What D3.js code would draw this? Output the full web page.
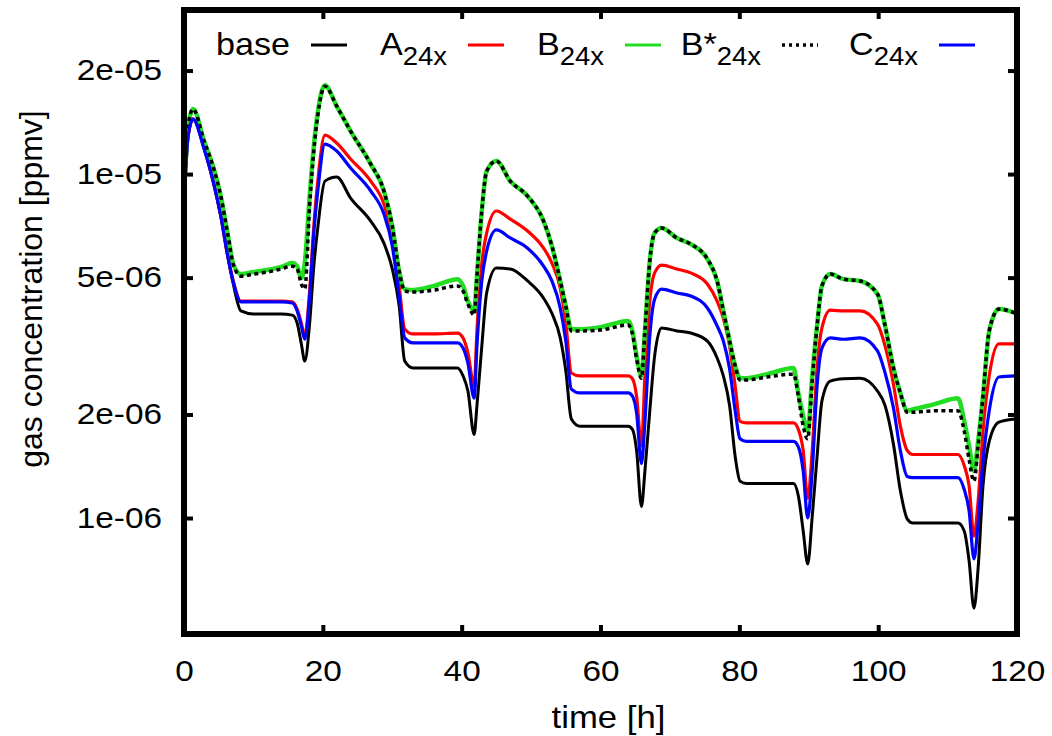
<!DOCTYPE html>
<html>
<head>
<meta charset="utf-8">
<script src="https://cdn.jsdelivr.net/npm/d3@7"></script>
<style>
  body { margin: 0; background: #fff; }
  svg text { font-family: "Liberation Sans", Arial, Helvetica, sans-serif; fill: #000; }
</style>
</head>
<body>
<svg id="chart"></svg>
<script>
// time in hours, shared by every series
var hours = [0, 0.6, 1.3, 2.9, 4.3, 5.3, 6.3, 7.1, 8.2, 10,
  12, 14, 15.6, 16.3, 16.9, 17.4, 18.1, 18.7, 19.3, 20.3,
  22, 24, 26.9, 28.8, 30, 31, 31.8, 33, 36, 39.4,
  40.2, 40.9, 41.8, 42.2, 42.9, 43.6, 45, 47, 49.5, 51.8,
  53, 54.2, 55, 55.8, 57, 60, 64, 64.6, 65.2, 65.9,
  66.4, 67.1, 67.8, 68.8, 71, 73, 75.4, 76.8, 77.7, 78.6,
  79.4, 80.1, 81, 84, 87.8, 88.5, 89.2, 89.85, 90.5, 91.2,
  91.9, 93.1, 95, 97.4, 99.9, 101, 102.2, 103.2, 104.2, 105,
  108, 111.5, 112.4, 113.1, 113.8, 114.4, 115.1, 116, 117.4, 119.8];

// gas concentration, in units of 1e-6 ppmv
var base = [8.35, 12.9, 14.45, 11.9, 9.35, 7.55, 5.78, 4.79, 4.00, 3.92,
  3.92, 3.92, 3.89, 3.69, 3.21, 2.86, 3.69, 5.40, 7.06, 9.54,
  9.80, 8.52, 7.30, 6.30, 5.30, 4.13, 2.86, 2.73, 2.73, 2.73,
  2.59, 2.34, 1.75, 2.12, 3.16, 4.51, 5.33, 5.30, 4.89, 4.36,
  3.94, 3.34, 2.68, 1.94, 1.85, 1.85, 1.85, 1.81, 1.57, 1.08,
  1.37, 2.05, 2.96, 3.57, 3.50, 3.45, 3.27, 2.92, 2.59, 2.12,
  1.51, 1.28, 1.26, 1.26, 1.26, 1.16, 0.917, 0.735, 1.01, 1.51,
  2.19, 2.50, 2.54, 2.55, 2.34, 2.12, 1.64, 1.20, 0.993, 0.967,
  0.967, 0.967, 0.917, 0.750, 0.547, 0.716, 1.24, 1.67, 1.90, 1.94];

var a24x = [8.35, 12.9, 14.45, 11.9, 9.35, 7.55, 5.78, 4.89, 4.27, 4.27,
  4.27, 4.27, 4.25, 4.05, 3.69, 3.38, 4.57, 7.06, 9.67, 12.98,
  12.31, 11.06, 9.54, 8.18, 6.60, 4.73, 3.54, 3.43, 3.43, 3.45,
  3.34, 3.02, 2.42, 3.50, 5.51, 6.74, 7.81, 7.40, 6.83, 6.09,
  5.51, 4.66, 3.69, 2.64, 2.59, 2.59, 2.59, 2.54, 2.26, 1.62,
  2.59, 4.27, 5.16, 5.44, 5.30, 5.16, 4.79, 4.27, 3.81, 3.16,
  2.42, 1.91, 1.89, 1.89, 1.89, 1.81, 1.57, 1.14, 1.57, 2.73,
  3.57, 4.02, 4.00, 4.00, 3.66, 3.16, 2.45, 1.85, 1.57, 1.53,
  1.53, 1.53, 1.42, 1.24, 0.886, 1.12, 1.79, 2.59, 3.21, 3.21];

var b24x = [8.63, 13.79, 15.45, 12.47, 10.34, 8.63, 6.69, 5.47, 5.12, 5.19,
  5.26, 5.37, 5.51, 5.40, 4.99, 5.51, 8.63, 12.06, 15.24, 18.14,
  15.76, 13.34, 10.69, 8.93, 7.06, 5.22, 4.63, 4.60, 4.73, 4.95,
  4.73, 4.27, 4.00, 5.05, 7.81, 10.20, 10.91, 9.54, 8.63, 7.30,
  6.18, 4.89, 4.13, 3.54, 3.54, 3.59, 3.74, 3.50, 2.96, 2.59,
  3.50, 5.59, 6.74, 6.97, 6.52, 6.26, 5.66, 4.89, 4.00, 3.27,
  2.77, 2.55, 2.55, 2.62, 2.73, 2.31, 1.98, 1.79, 2.59, 3.62,
  4.73, 5.12, 4.95, 4.89, 4.48, 3.62, 2.73, 2.31, 2.05, 2.07,
  2.14, 2.23, 1.91, 1.62, 1.37, 1.67, 2.26, 3.50, 4.05, 3.94];

var bStar24x = [8.63, 13.79, 15.45, 12.47, 10.34, 8.63, 6.69, 5.47, 5.05, 5.12,
  5.19, 5.30, 5.40, 5.30, 4.79, 4.63, 8.07, 11.67, 14.94, 18.02,
  15.76, 13.34, 10.69, 8.93, 7.06, 5.22, 4.57, 4.54, 4.60, 4.73,
  4.57, 4.19, 3.89, 5.05, 7.81, 10.20, 10.91, 9.54, 8.63, 7.30,
  6.18, 4.89, 4.13, 3.50, 3.50, 3.52, 3.64, 3.43, 2.90, 2.55,
  3.50, 5.59, 6.74, 6.97, 6.52, 6.26, 5.66, 4.89, 4.00, 3.27,
  2.77, 2.52, 2.52, 2.57, 2.62, 2.26, 1.85, 1.70, 2.50, 3.62,
  4.73, 5.12, 4.95, 4.89, 4.48, 3.62, 2.73, 2.31, 2.03, 2.03,
  2.05, 2.05, 1.79, 1.48, 1.28, 1.62, 2.26, 3.50, 4.05, 3.94];

var c24x = [8.35, 12.9, 14.45, 11.82, 9.35, 7.55, 5.78, 4.85, 4.25, 4.25,
  4.25, 4.25, 4.22, 4.00, 3.62, 3.31, 4.42, 6.74, 9.04, 12.23,
  11.67, 10.41, 8.93, 7.65, 6.18, 4.42, 3.34, 3.23, 3.23, 3.23,
  3.12, 2.82, 2.23, 3.16, 4.89, 5.97, 6.88, 6.52, 6.09, 5.40,
  4.89, 4.08, 3.27, 2.37, 2.31, 2.31, 2.31, 2.26, 2.02, 1.44,
  1.91, 3.38, 4.33, 4.63, 4.51, 4.42, 4.08, 3.62, 3.27, 2.71,
  2.05, 1.70, 1.67, 1.67, 1.67, 1.61, 1.37, 1.00, 1.37, 2.42,
  3.12, 3.34, 3.31, 3.34, 3.06, 2.64, 2.09, 1.57, 1.32, 1.31,
  1.31, 1.31, 1.21, 1.05, 0.760, 0.967, 1.46, 2.05, 2.57, 2.59];

var xTicks = [0, 20, 40, 60, 80, 100, 120];
var yTicks = [1e-6, 2e-6, 5e-6, 1e-5, 2e-5];
var yTickLabels = ["1e-06", "2e-06", "5e-06", "1e-05", "2e-05"];

var dimensions = {
    width: 1052,
    height: 736,
    margin: { top: 10, bottom: 102, left: 184, right: 35 }
}

// draw order as in the original: base, A, B, B*, C
var series = [
    { name: "base", sub: "", values: base, color: "#000000", width: 3 },
    { name: "A", sub: "24x", values: a24x, color: "#ff0000", width: 3.2 },
    { name: "B", sub: "24x", values: b24x, color: "#22dd22", width: 4.5 },
    { name: "B*", sub: "24x", values: bStar24x, color: "#000000", width: 3.5, dash: "4,3.5" },
    { name: "C", sub: "24x", values: c24x, color: "#0000ff", width: 3.2 }
];

var stretch = 1.15;

var svg = d3.select("#chart")
    .attr("width", dimensions.width)
    .attr("height", dimensions.height);

var plotLeft = dimensions.margin.left,
    plotRight = dimensions.width - dimensions.margin.right,
    plotTop = dimensions.margin.top,
    plotBottom = dimensions.height - dimensions.margin.bottom;

var xScale = d3.scaleLinear().domain([0, 120]).range([plotLeft, plotRight]);
var yScale = d3.scaleLog().domain([4.6e-7, 3e-5]).range([plotBottom, plotTop]);

svg.append("clipPath").attr("id", "plotclip")
    .append("rect")
    .attr("x", plotLeft).attr("y", plotTop)
    .attr("width", plotRight - plotLeft).attr("height", plotBottom - plotTop);

var line = d3.line()
    .x(d => xScale(d[0]))
    .y(d => yScale(d[1] * 1e-6))
    .curve(d3.curveMonotoneX);

var curves = svg.append("g").attr("clip-path", "url(#plotclip)");
series.forEach(function(s) {
    curves.append("path")
        .datum(hours.map((h, i) => [h, s.values[i]]))
        .attr("d", line)
        .attr("fill", "none")
        .attr("stroke", s.color)
        .attr("stroke-width", s.width)
        .attr("stroke-linejoin", "round")
        .attr("stroke-dasharray", s.dash || null);
});

// axes, ticks pointing inwards on all four sides
function styleAxis(g) {
    g.attr("font-size", 29).attr("font-family", '"Liberation Sans", Arial, sans-serif');
    g.select(".domain").remove();
    g.selectAll(".tick line").attr("stroke", "#000").attr("stroke-width", 4);
    g.selectAll(".tick text").attr("fill", "#000");
}

svg.append("g")
    .attr("transform", `translate(${plotLeft},0)`)
    .call(d3.axisLeft(yScale).tickValues(yTicks)
        .tickFormat((d, i) => yTickLabels[i]).tickSize(-9).tickPadding(22))
    .call(styleAxis)
    .selectAll(".tick text")
    .attr("x", function() { return +d3.select(this).attr("x") / stretch; })
    .attr("transform", `scale(${stretch},1)`);

svg.append("g")
    .attr("transform", `translate(${plotRight},0)`)
    .call(d3.axisRight(yScale).tickValues(yTicks).tickFormat("").tickSize(-9))
    .call(styleAxis);

svg.append("g")
    .attr("transform", `translate(0,${plotBottom})`)
    .call(d3.axisBottom(xScale).tickValues(xTicks).tickSize(-9).tickPadding(26))
    .call(styleAxis)
    .selectAll(".tick text")
    .attr("transform", `scale(${stretch},1)`);

svg.append("g")
    .attr("transform", `translate(0,${plotTop})`)
    .call(d3.axisTop(xScale).tickValues(xTicks).tickFormat("").tickSize(-9))
    .call(styleAxis);

svg.append("rect")
    .attr("x", plotLeft).attr("y", plotTop)
    .attr("width", plotRight - plotLeft).attr("height", plotBottom - plotTop)
    .attr("fill", "none").attr("stroke", "#000").attr("stroke-width", 6);

// axis titles
svg.append("text")
    .attr("transform", `translate(${(plotLeft + plotRight) / 2 + 8},728) scale(1.12,1)`)
    .attr("text-anchor", "middle")
    .attr("font-size", 31)
    .text("time [h]");

svg.append("text")
    .attr("transform", `translate(42,${(plotTop + plotBottom) / 2 - 33}) rotate(-90)`)
    .attr("text-anchor", "middle")
    .attr("font-size", 32)
    .text("gas concentration [ppmv]");

// key, one row across the top
var legendX0 = 311, legendStep = 157, sampleLen = 36, textGap = 21, legendY = 45;

series.forEach(function(s, i) {
    var sx = legendX0 + i * legendStep;
    svg.append("line")
        .attr("x1", sx).attr("x2", sx + sampleLen)
        .attr("y1", legendY).attr("y2", legendY)
        .attr("stroke", s.color)
        .attr("stroke-width", s.dash ? 3.5 : 3)
        .attr("stroke-dasharray", s.dash ? "3,4" : null);

    var t = svg.append("text")
        .attr("transform", `translate(${sx - textGap},${legendY + 10}) scale(1.1,1)`)
        .attr("text-anchor", "end")
        .attr("font-size", 31);
    t.append("tspan").text(s.name);
    if (s.sub) {
        t.append("tspan").attr("font-size", 25).attr("dy", 10).text(s.sub);
    }
});
</script>
</body>
</html>
